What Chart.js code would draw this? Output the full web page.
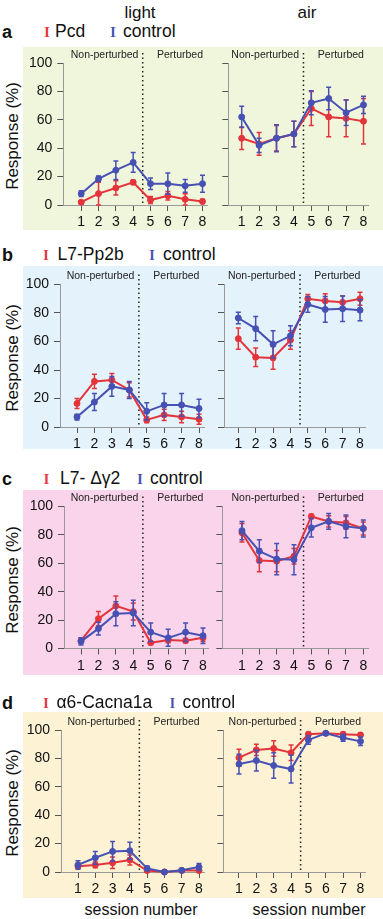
<!DOCTYPE html>
<html>
<head>
<meta charset="utf-8">
<script src="https://cdn.jsdelivr.net/npm/chart.js@4.4.1/dist/chart.umd.min.js"></script>
<style>
body { margin: 0; background: #fff; font-family: "Liberation Sans", Arial, sans-serif; }
#fig { position: relative; width: 383px; height: 919px; overflow: hidden; }
.bg { position: absolute; left: 23px; width: 360px; }
canvas { position: absolute; }
.t { position: absolute; white-space: nowrap; line-height: 1; color: #111; }
</style>
</head>
<body>
<div id="fig"></div>
<script>
const sessions = [1, 2, 3, 4, 5, 6, 7, 8];
const yTicks = [0, 20, 40, 60, 80, 100];

// a: Pcd
const pcdLight = [2, 8, 12, 16, 3.5, 6.5, 4, 2.5];
const pcdLightErr = [1, 8, 5, 1.5, 2.5, 3, 4, 1.5];
const ctrlLightA = [8, 18.5, 24.5, 30, 15, 15, 13.5, 15];
const ctrlLightAErr = [2, 2, 6.5, 7, 4, 7.5, 4.5, 6];
const pcdAir = [47, 43, 47, 50, 68, 62, 61, 59];
const pcdAirErr = [8, 8, 9, 9, 12, 14, 13, 16];
const ctrlAirA = [62, 42, 47, 50, 72, 75, 65, 70.5];
const ctrlAirAErr = [7.5, 5, 9.5, 9, 8.5, 8, 9, 6];

// b: L7-Pp2b
const pp2bLight = [16.5, 32, 33, 26, 5, 8.5, 7, 5.5];
const pp2bLightErr = [3.5, 5, 4.5, 5, 2, 4, 4, 3.5];
const ctrlLightB = [7, 17.5, 28.5, 26, 11, 15.5, 15.5, 13];
const ctrlLightBErr = [2, 6, 7, 6, 6, 8, 8, 6.5];
const pp2bAir = [62, 49, 48.5, 61, 90, 88.5, 87.5, 90];
const pp2bAirErr = [7.5, 6.5, 8, 6.5, 3, 5, 4.5, 4.5];
const ctrlAirB = [76.5, 69, 58, 64, 86, 82.5, 83, 82];
const ctrlAirBErr = [4, 8.5, 9.5, 7, 5.5, 9, 9, 7.5];

// c: L7-dg2
const g2Light = [5.5, 21, 30, 26, 4, 6, 5.5, 7.5];
const g2LightErr = [2, 5, 7, 6, 1, 2, 1.5, 2.5];
const ctrlLightC = [5, 14, 24.5, 25, 11.5, 7.5, 11.5, 9];
const ctrlLightCErr = [2.5, 4.5, 8.5, 9, 6.5, 6, 6.5, 5.5];
const g2Air = [81.5, 62, 61.5, 65, 93, 89.5, 88.5, 84.5];
const g2AirErr = [6.5, 8, 7.5, 5.5, 1.5, 4, 4.5, 4.5];
const ctrlAirC = [83, 68.5, 63, 62.5, 85, 89.5, 86, 84.5];
const ctrlAirCErr = [6.5, 8, 11, 10.5, 6.5, 5.5, 8, 6];

// d: a6-Cacna1a
const cacLight = [4, 5, 6.5, 8.5, 1, 0, 1, 1];
const cacLightErr = [1.5, 2, 4, 3.5, 1, 0.5, 0.8, 1];
const ctrlLightD = [5, 10, 14.5, 15, 2.5, 0, 1.2, 3.5];
const ctrlLightDErr = [3, 4.5, 7, 6, 1.5, 0.5, 1, 2.5];
const cacAir = [80.5, 86, 87, 84, 97, 97.7, 97, 96.5];
const cacAirErr = [6, 4, 5.5, 5.5, 1.5, 1, 1.5, 1.5];
const ctrlAirD = [76, 78.5, 75, 72.5, 93, 97.7, 94.5, 92];
const ctrlAirDErr = [7, 7.3, 9, 9.8, 3, 1, 2.5, 3];

const RED = '#e4343b';
const BLUE = '#4651b3';
const FONT = '"Liberation Sans", Arial, sans-serif';

const fig = document.getElementById('fig');

function txt(str, x, y, css, center) {
    const d = document.createElement('div');
    d.className = 't';
    d.textContent = str;
    d.style.left = x + 'px';
    d.style.top = y + 'px';
    d.style.transform = center ? 'translate(-50%,-50%)' : 'translateY(-50%)';
    Object.assign(d.style, css || {});
    fig.appendChild(d);
    return d;
}

// error bars drawn just before each dataset's line
const errorBars = {
    id: 'errorBars',
    beforeDatasetDraw(chart, args) {
        const ds = chart.data.datasets[args.index];
        const ys = chart.scales.y;
        const ctx = chart.ctx;
        ctx.save();
        ctx.strokeStyle = ds.borderColor;
        ctx.lineWidth = 1.5;
        args.meta.data.forEach((pt, i) => {
            const v = ds.data[i].y, e = ds.err[i];
            const top = ys.getPixelForValue(v + e);
            const bot = ys.getPixelForValue(v - e);
            ctx.beginPath();
            ctx.moveTo(pt.x, top); ctx.lineTo(pt.x, bot);
            ctx.moveTo(pt.x - 2.5, top); ctx.lineTo(pt.x + 2.5, top);
            ctx.moveTo(pt.x - 2.5, bot); ctx.lineTo(pt.x + 2.5, bot);
            ctx.stroke();
        });
        ctx.restore();
    }
};

// dotted divider + section labels
const sections = {
    id: 'sections',
    beforeDatasetsDraw(chart) {
        const ctx = chart.ctx, xs = chart.scales.x, area = chart.chartArea;
        const xd = xs.getPixelForValue(4.55);
        ctx.save();
        ctx.strokeStyle = '#222';
        ctx.lineWidth = 1.5;
        ctx.setLineDash([1.5, 3]);
        ctx.beginPath();
        ctx.moveTo(xd, area.top - 10);
        ctx.lineTo(xd, area.bottom);
        ctx.stroke();
        ctx.setLineDash([]);
        ctx.fillStyle = '#222';
        ctx.font = '10.5px ' + FONT;
        ctx.textAlign = 'center';
        ctx.textBaseline = 'middle';
        ctx.fillText('Non-perturbed', xs.getPixelForValue(2.35), area.top - 8);
        ctx.fillText('Perturbed', xs.getPixelForValue(6.7), area.top - 8);
        ctx.restore();
    }
};

function makeChart(row, side, mutant, mutantErr, ctrl, ctrlErr) {
    const p = row[side];
    const cx = side === 'left' ? 23 : 215;
    const cw = side === 'left' ? 192 : 168;
    const ch = row.bottom - row.top;
    const sp = (p.x8 - p.x1) / 7;
    const rightPx = p.x8 + 5;
    const xmin = 1 - (p.x1 - p.axis) / sp;
    const xmax = 8 + (rightPx - p.x8) / sp;
    const XH = 26;

    const canvas = document.createElement('canvas');
    canvas.width = cw;
    canvas.height = ch;
    canvas.style.left = cx + 'px';
    canvas.style.top = row.top + 'px';
    fig.appendChild(canvas);

    const pts = arr => sessions.map((s, i) => ({ x: s, y: arr[i] }));

    new Chart(canvas, {
        type: 'line',
        data: {
            datasets: [
                { data: pts(ctrl), err: ctrlErr, borderColor: BLUE, backgroundColor: BLUE, clip: false },
                { data: pts(mutant), err: mutantErr, borderColor: RED, backgroundColor: RED, clip: false }
            ]
        },
        options: {
            responsive: false,
            animation: false,
            events: [],
            layout: {
                padding: { left: 0, top: row.y100 - row.top, right: cx + cw - rightPx, bottom: ch - (row.y0 - row.top) - XH }
            },
            plugins: { legend: { display: false }, tooltip: { enabled: false } },
            elements: {
                line: { borderWidth: 2, tension: 0 },
                point: { radius: 3, borderWidth: 1 }
            },
            scales: {
                x: {
                    type: 'linear', min: xmin, max: xmax,
                    afterBuildTicks: s => { s.ticks = sessions.map(v => ({ value: v })); },
                    afterFit: s => { s.height = XH; },
                    grid: { display: true, drawOnChartArea: false, drawTicks: true, tickLength: 6, color: '#555' },
                    border: { display: true, color: '#999' },
                    ticks: { font: { family: FONT, size: 14 }, color: '#111', padding: 3, maxRotation: 0, autoSkip: false }
                },
                y: {
                    min: 0, max: 100,
                    afterBuildTicks: s => { s.ticks = yTicks.map(v => ({ value: v })); },
                    afterFit: s => { s.width = p.axis - cx; },
                    grid: { display: true, drawOnChartArea: false, drawTicks: true, tickLength: 6, color: '#555' },
                    border: { display: true, color: '#999' },
                    ticks: { font: { family: FONT, size: 14 }, color: side === 'left' ? '#111' : 'rgba(0,0,0,0)', padding: 5 }
                }
            }
        },
        plugins: [errorBars, sections]
    });
}

const rowA = { top: 47, bottom: 230, y100: 63, y0: 205, bg: '#f0f6dc',
    left: { axis: 63.3, x1: 81.2, x8: 202.5 }, right: { axis: 228.3, x1: 241.7, x8: 363.5 } };
const rowB = { top: 266, bottom: 449, y100: 284.5, y0: 427, bg: '#e3f2fb',
    left: { axis: 60, x1: 77, x8: 199 }, right: { axis: 224, x1: 238.3, x8: 360 } };
const rowC = { top: 490, bottom: 675, y100: 506.5, y0: 648.5, bg: '#f9d4ea',
    left: { axis: 64, x1: 81, x8: 203 }, right: { axis: 222.3, x1: 242, x8: 363.3 } };
const rowD = { top: 712, bottom: 898, y100: 730, y0: 872, bg: '#fdf2d4',
    left: { axis: 61, x1: 78, x8: 199 }, right: { axis: 223.3, x1: 239, x8: 360.5 } };

[rowA, rowB, rowC, rowD].forEach(r => {
    const d = document.createElement('div');
    d.className = 'bg';
    d.style.top = r.top + 'px';
    d.style.height = (r.bottom - r.top) + 'px';
    d.style.background = r.bg;
    fig.appendChild(d);
    txt('Response (%)', 12, (r.y100 + r.y0) / 2 + 2,
        { fontSize: '17px', transform: 'translate(-50%,-50%) rotate(-90deg)' });
});

makeChart(rowA, 'left', pcdLight, pcdLightErr, ctrlLightA, ctrlLightAErr);
makeChart(rowA, 'right', pcdAir, pcdAirErr, ctrlAirA, ctrlAirAErr);
makeChart(rowB, 'left', pp2bLight, pp2bLightErr, ctrlLightB, ctrlLightBErr);
makeChart(rowB, 'right', pp2bAir, pp2bAirErr, ctrlAirB, ctrlAirBErr);
makeChart(rowC, 'left', g2Light, g2LightErr, ctrlLightC, ctrlLightCErr);
makeChart(rowC, 'right', g2Air, g2AirErr, ctrlAirC, ctrlAirCErr);
makeChart(rowD, 'left', cacLight, cacLightErr, ctrlLightD, ctrlLightDErr);
makeChart(rowD, 'right', cacAir, cacAirErr, ctrlAirD, ctrlAirDErr);

// titles, panel letters, legends
txt('light', 140, 12, { fontSize: '17px' }, true);
txt('air', 307, 12, { fontSize: '17px' }, true);

const BIG = { fontSize: '17.5px' };
const IBEAM = c => ({ fontSize: '14px', fontWeight: 'bold', fontFamily: '"Liberation Serif", serif', color: c });
const LETTER = { fontSize: '18px', fontWeight: 'bold' };

txt('a', 2, 32, LETTER);
txt('I', 47, 33, IBEAM(RED), true);
txt('Pcd', 55, 32, BIG);
txt('I', 113, 33, IBEAM(BLUE), true);
txt('control', 123, 32, BIG);

txt('b', 2, 255, LETTER);
txt('I', 46, 256, IBEAM(RED), true);
txt('L7-Pp2b', 57.5, 255, BIG);
txt('I', 152, 256, IBEAM(BLUE), true);
txt('control', 163, 255, BIG);

txt('c', 2, 479, LETTER);
txt('I', 46.5, 480, IBEAM(RED), true);
txt('L7- \u0394\u03B32', 60, 479, BIG);
txt('I', 140, 480, IBEAM(BLUE), true);
txt('control', 150, 479, BIG);

txt('d', 2, 703, LETTER);
txt('I', 46, 704, IBEAM(RED), true);
txt('\u03B16-Cacna1a', 56.5, 703, BIG);
txt('I', 172.5, 704, IBEAM(BLUE), true);
txt('control', 182.5, 703, BIG);

txt('session number', 141, 910, { fontSize: '16px' }, true);
txt('session number', 309, 910, { fontSize: '16px' }, true);
</script>
</body>
</html>
